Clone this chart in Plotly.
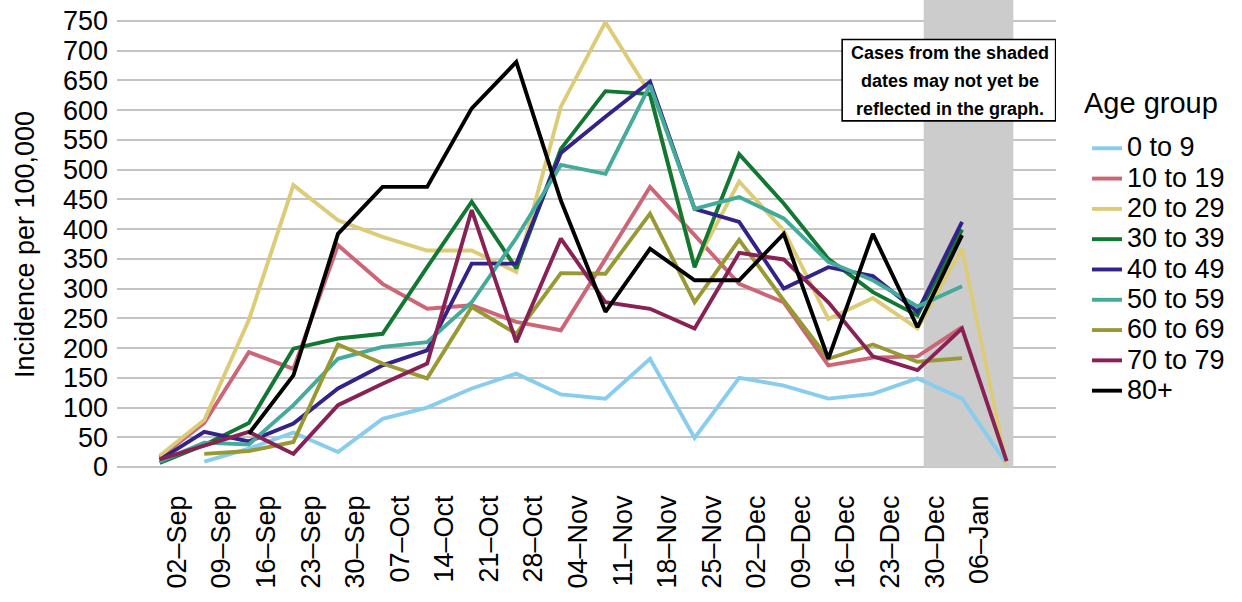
import plotly.graph_objects as go

# ---------------- data ----------------
week_labels = ["02–Sep", "09–Sep", "16–Sep", "23–Sep", "30–Sep", "07–Oct", "14–Oct",
               "21–Oct", "28–Oct", "04–Nov", "11–Nov", "18–Nov", "25–Nov", "02–Dec",
               "09–Dec", "16–Dec", "23–Dec", "30–Dec", "06–Jan"]
week_index = list(range(20))  # 20 weekly points (last one = 13-Jan, unlabeled)

age_groups = ["0 to 9", "10 to 19", "20 to 29", "30 to 39", "40 to 49",
              "50 to 59", "60 to 69", "70 to 79", "80+"]
colors = ["#88CCEE", "#CC6677", "#DDCC77", "#117733", "#332288",
          "#44AA99", "#999933", "#882255", "#000000"]

age_0_9 = [None, 9, 31, 58, 25, 81, 100, 132, 157, 122, 115, 182, 49, 150, 137, 115, 123, 149, 115, 5]
age_10_19 = [16, 74, 193, 165, 373, 308, 266, 272, 244, 230, 350, 471, 390, 308, 277, 171, 184, 186, 235, None]
age_20_29 = [19, 79, 247, 474, 415, 387, 364, 364, 328, 606, 748, 628, 339, 480, 398, 249, 284, 233, 367, 3]
age_30_39 = [7, 37, 74, 199, 216, 224, 336, 446, 334, 535, 632, 627, 336, 526, 443, 350, 294, 255, 399, None]
age_40_49 = [12, 59, 43, 73, 132, 171, 196, 342, 342, 528, 589, 648, 434, 412, 300, 336, 321, 261, 412, None]
age_50_59 = [9, 41, 38, 104, 182, 202, 210, 277, 385, 508, 493, 642, 434, 454, 418, 345, 314, 270, 304, None]
age_60_69 = [None, 22, 27, 42, 206, 174, 149, 269, 224, 326, 325, 426, 277, 382, 280, 182, 206, 177, 183, None]
age_70_79 = [13, 36, 59, 22, 104, 140, 174, 432, 210, 384, 277, 266, 233, 360, 349, 277, 186, 163, 233, 10]
age_80_plus = [None, None, 56, 154, 392, 471, 471, 603, 681, 448, 261, 367, 314, 314, 392, 182, 392, 235, 390, None]

series = [age_0_9, age_10_19, age_20_29, age_30_39, age_40_49,
          age_50_59, age_60_69, age_70_79, age_80_plus]

y_ticks = list(range(0, 751, 50))
shade_start, shade_end = 17.14, 19.15
note_lines = ["Cases from the shaded", "dates may not yet be", "reflected in the graph."]
legend_title = "Age group"

# ---------------- figure ----------------
FONT = "Liberation Sans, Arial, Helvetica, sans-serif"
fig = go.Figure()

for name, col, vals in zip(age_groups, colors, series):
    fig.add_trace(go.Scatter(
        x=week_index, y=vals, mode="lines",
        name='<span style="font-size:27px">' + name + '</span>',
        line=dict(color=col, width=3.9),
        connectgaps=False,
    ))

# shaded "incomplete data" region
fig.add_shape(type="rect", xref="x", yref="y",
              x0=shade_start, x1=shade_end, y0=0, y1=785.3,
              fillcolor="#CCCCCC", line=dict(width=0), layer="between")

# note box
fig.add_shape(type="rect", xref="x", yref="y",
              x0=15.31, x1=20.1, y0=582, y1=719,
              fillcolor="white", line=dict(color="black", width=1.6), layer="above")
for txt, yy in zip(note_lines, [696, 649, 602]):
    fig.add_annotation(x=17.72, y=yy, xref="x", yref="y", text=txt, showarrow=False,
                       font=dict(family=FONT, size=18, color="black", weight="bold"),
                       xanchor="center", yanchor="middle")

# legend title
fig.add_annotation(x=1.028, y=1 - 103 / 489, xref="paper", yref="paper",
                   text=legend_title, showarrow=False, xanchor="left", yanchor="middle",
                   font=dict(family=FONT, size=29, color="black"))

fig.update_xaxes(
    range=[-0.9575, 20.1075],
    tickmode="array",
    tickvals=[i + 0.39 for i in range(len(week_labels))],
    ticktext=week_labels,
    tickangle=-90,
    tickfont=dict(family=FONT, size=27, color="black"),
    showgrid=False, zeroline=False, showline=False, ticks="",
)
fig.update_yaxes(
    range=[-37.0, 785.3],
    tickmode="array",
    tickvals=y_ticks,
    tickfont=dict(family=FONT, size=27, color="black"),
    ticklabelstandoff=8,
    showgrid=True, gridcolor="#C4C4C4", gridwidth=1.5,
    zeroline=False, showline=False, ticks="",
    title=dict(text="Incidence per 100,000", font=dict(family=FONT, size=27, color="black"), standoff=20),
)

fig.update_layout(
    width=1242, height=602,
    margin=dict(l=117, r=186, t=0, b=113),
    plot_bgcolor="white", paper_bgcolor="white",
    font=dict(family=FONT, color="black"),
    showlegend=True,
    legend=dict(
        font=dict(family=FONT, size=21, color="black"),
        x=1.033, xanchor="left", y=0.738, yanchor="top",
        bgcolor="rgba(0,0,0,0)", borderwidth=0,
    ),
)

fig.write_html("out.html", config={"displayModeBar": False},
               post_script="document.body.style.margin='0';document.body.style.overflow='hidden';")
